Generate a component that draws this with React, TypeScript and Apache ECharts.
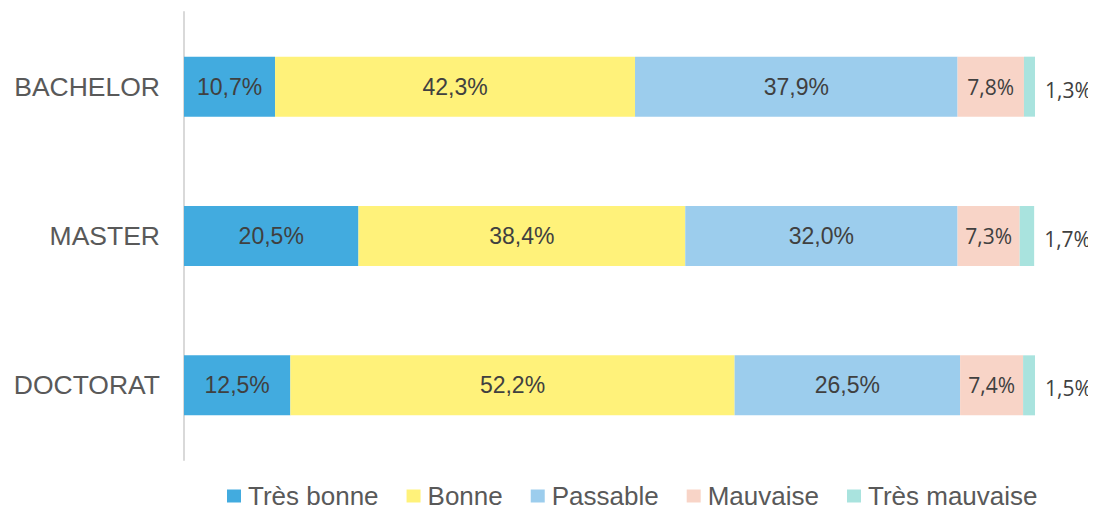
import React, { useEffect, useRef } from "react";
import * as echarts from "echarts";

const categories = ["BACHELOR", "MASTER", "DOCTORAT"];
const seriesNames = ["Très bonne", "Bonne", "Passable", "Mauvaise", "Très mauvaise"];
const tresBonne = [10.7, 20.5, 12.5];
const bonne = [42.3, 38.4, 52.2];
const passable = [37.9, 32.0, 26.5];
const mauvaise = [7.8, 7.3, 7.4];
const tresMauvaise = [1.3, 1.7, 1.5];
const colors = ["#42ABDF", "#FFF27A", "#9CCDED", "#F8D4C7", "#A9E3DE"];

const fmt = (v: number) => v.toFixed(1).replace(".", ",") + "%";

export default function App() {
  const ref = useRef<HTMLDivElement>(null);
  useEffect(() => {
    if (!ref.current) return;
    const chart = echarts.init(ref.current, undefined, { renderer: "svg" });
    const data = [tresBonne, bonne, passable, mauvaise, tresMauvaise];
    const series = data.map((d, i) => {
      const calibri = i >= 3;
      return {
        name: seriesNames[i],
        type: "bar",
        stack: "total",
        barWidth: 60,
        data: d,
        itemStyle: { color: colors[i] },
        label: {
          show: true,
          position: i === 4 ? "right" : "inside",
          distance: 10,
          formatter: (p: any) => fmt(p.value),
          color: "#404040",
          fontFamily: calibri ? "Open Sans" : "Liberation Sans, Arial, sans-serif",
          fontSize: calibri ? 21 : 23,
          offset: i === 4 ? [0, 3] : [0, 0],
        },
      };
    });
    chart.setOption({
      animation: false,
      color: colors,
      grid: { left: 176, right: 61, top: 4, bottom: 48, containLabel: false },
      xAxis: { type: "value", min: 0, max: 100, show: false },
      yAxis: {
        type: "category",
        data: categories,
        inverse: true,
        axisLine: { show: true, lineStyle: { color: "#D9D9D9", width: 2 } },
        axisTick: { show: false },
        axisLabel: {
          margin: 24,
          color: "#595959",
          fontSize: 26.5,
          fontFamily: "Liberation Sans, Arial, sans-serif",
        },
      },
      legend: {
        top: 470,
        left: 214,
        itemWidth: 14,
        itemHeight: 13,
        itemGap: 28,
        icon: "rect",
        textStyle: {
          color: "#595959",
          fontSize: 26,
          fontFamily: "Liberation Sans, Arial, sans-serif",
          padding: [0, 0, 0, 2],
        },
        data: seriesNames,
      },
      series,
    });
    return () => chart.dispose();
  }, []);
  return <div ref={ref} style={{ width: 1088, height: 500 }} />;
}
